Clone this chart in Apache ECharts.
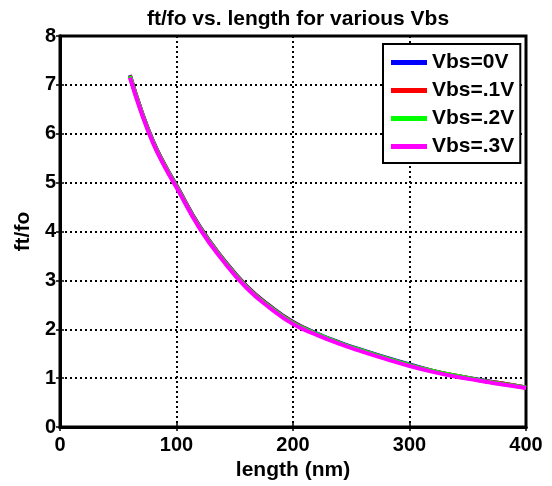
<!DOCTYPE html>
<html>
<head>
<meta charset="utf-8">
<script src="https://cdn.jsdelivr.net/npm/echarts@6/dist/echarts.min.js"></script>
<style>html,body{margin:0;padding:0;background:#fff}#c{width:552px;height:486px}</style>
</head>
<body>
<div id="c"></div>
<script>
const lengths = [60,70,80,90,100,120,140,160,180,200,220,240,260,280,300,320,340,360,380,400];
const vbs0 = [7.20,6.46,5.84,5.36,4.94,4.10,3.44,2.89,2.48,2.15,1.92,1.73,1.57,1.42,1.28,1.15,1.05,0.97,0.89,0.81];
const vbs1 = [7.19,6.45,5.83,5.35,4.93,4.09,3.43,2.88,2.47,2.14,1.91,1.72,1.56,1.41,1.27,1.15,1.05,0.96,0.89,0.81];
const vbs2 = [7.18,6.44,5.82,5.34,4.92,4.08,3.42,2.87,2.46,2.13,1.91,1.72,1.56,1.41,1.27,1.15,1.05,0.96,0.88,0.81];
const vbs3 = [7.15,6.42,5.80,5.32,4.90,4.06,3.40,2.85,2.44,2.11,1.89,1.70,1.54,1.39,1.25,1.13,1.03,0.95,0.87,0.80];
const seriesNames = ['Vbs=0V','Vbs=.1V','Vbs=.2V','Vbs=.3V'];
const seriesColors = ['#0000ff','#ff0000','#00ff00','#ff00ff'];
const xTicks = [0,100,200,300,400];
const yTicks = [0,1,2,3,4,5,6,7,8];

const F = 'Arial, "Liberation Sans", sans-serif';
const all = [vbs0,vbs1,vbs2,vbs3];
const chart = echarts.init(document.getElementById('c'), null, {renderer:'canvas'});
const gridLine = {show:true, lineStyle:{color:'#000', width:2, type:[2,3]}};
const tick = {show:true, inside:true, length:4, lineStyle:{color:'#000', width:1.5}};
chart.setOption({
  animation:false,
  backgroundColor:'#fff',
  title:{text:'ft/fo vs. length for various Vbs', left:293, textAlign:'center', top:4,
    textStyle:{fontFamily:F, fontWeight:'bold', fontSize:21, color:'#000'}},
  grid:{left:60, right:26, top:36, bottom:53, show:true, borderColor:'#000', borderWidth:3, backgroundColor:'#fff'},
  legend:{left:383, top:44, orient:'vertical', icon:'rect', itemWidth:36, itemHeight:5, itemGap:7,
    padding:[8,6,6,8], backgroundColor:'#fff', borderColor:'#000', borderWidth:2,
    data:seriesNames,
    textStyle:{fontFamily:F, fontWeight:'bold', fontSize:21, color:'#000', lineHeight:21}},
  xAxis:[{type:'value', min:xTicks[0], max:xTicks[xTicks.length-1], interval:100,
    name:'length (nm)', nameLocation:'middle', nameGap:32,
    nameTextStyle:{fontFamily:F, fontWeight:'bold', fontSize:21, color:'#000'},
    axisLine:{show:true, lineStyle:{color:'#000', width:3}},
    axisTick:tick, splitLine:gridLine,
    axisLabel:{fontFamily:F, fontWeight:'bold', fontSize:20, color:'#000', margin:8}},
   {type:'value', position:'top', min:0, max:400, interval:100,
    axisLine:{show:true, lineStyle:{color:'#000', width:3}}, axisTick:tick, axisLabel:{show:false}, splitLine:{show:false}}],
  yAxis:[{type:'value', min:yTicks[0], max:yTicks[yTicks.length-1], interval:1,
    name:'ft/fo', nameLocation:'middle', nameGap:23,
    nameTextStyle:{fontFamily:F, fontWeight:'bold', fontSize:21, color:'#000'},
    axisLine:{show:true, lineStyle:{color:'#000', width:3}},
    axisTick:tick, splitLine:gridLine,
    axisLabel:{fontFamily:F, fontWeight:'bold', fontSize:20, color:'#000', margin:4}},
   {type:'value', position:'right', min:0, max:8, interval:1,
    axisLine:{show:true, lineStyle:{color:'#000', width:3}}, axisTick:tick, axisLabel:{show:false}, splitLine:{show:false}}],
  series: all.map((vals,i)=>({
    name:seriesNames[i], type:'line', smooth:true, showSymbol:false, symbol:'none',
    xAxisIndex:0, yAxisIndex:0,
    color:seriesColors[i],
    lineStyle:{color:seriesColors[i], width:4},
    itemStyle:{color:seriesColors[i]},
    data: lengths.map((x,j)=>[x, vals[j]])
  }))
});
</script>
</body>
</html>
